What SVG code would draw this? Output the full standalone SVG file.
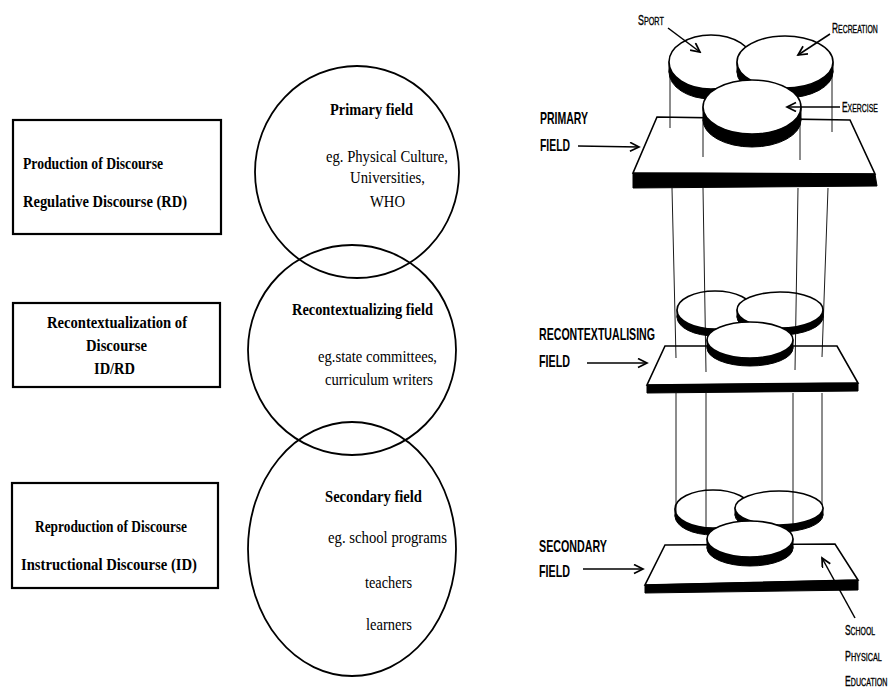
<svg xmlns="http://www.w3.org/2000/svg" width="889" height="689" viewBox="0 0 889 689">
<style>
.bx{fill:#fff;stroke:#000;stroke-width:2.2}
.cir{fill:none;stroke:#000;stroke-width:1.8}
.sb{font-family:"Liberation Serif","Times New Roman",serif;font-weight:bold;font-size:17px;fill:#000}
.cb{font-family:"Liberation Serif","Times New Roman",serif;font-weight:bold;font-size:16.5px;fill:#000}
.sr{font-family:"Liberation Serif","Times New Roman",serif;font-size:16.5px;fill:#000}
.lb{font-family:"Liberation Sans",Arial,sans-serif;font-weight:bold;font-size:17px;fill:#000}
.sc{font-family:"Liberation Sans",Arial,sans-serif;font-size:11.5px;fill:#000;stroke:#000;stroke-width:0.35}
.big{font-size:14px}
.top{fill:#fff;stroke:#000;stroke-width:1.6}
.blk{fill:#000;stroke:#000;stroke-width:1}
.plate{fill:#fff;stroke:#000;stroke-width:1.6}
.pl{stroke:#000;stroke-width:0.9;fill:none}
.ar{stroke:#000;stroke-width:1.5;fill:none;marker-end:url(#ah)}
</style>
<defs>
<marker id="ah" markerUnits="userSpaceOnUse" markerWidth="12" markerHeight="12" refX="10" refY="5" orient="auto">
<path d="M1,0.5 L10,5 L1,9.5" fill="none" stroke="#000" stroke-width="1.7"/>
</marker>
</defs>
<rect width="889" height="689" fill="#fff"/>

<g id="box-production">
<rect class="bx" x="13" y="120" width="208" height="114"/>
<text class="sb" x="23" y="169" textLength="140" lengthAdjust="spacingAndGlyphs">Production of Discourse</text>
<text class="sb" x="23" y="207" textLength="164" lengthAdjust="spacingAndGlyphs">Regulative Discourse (RD)</text>
</g>
<g id="box-recontextualization">
<rect class="bx" x="13" y="303" width="207" height="84"/>
<text class="sb" x="47" y="328" textLength="140" lengthAdjust="spacingAndGlyphs">Recontextualization of</text>
<text class="sb" x="86" y="351" textLength="61" lengthAdjust="spacingAndGlyphs">Discourse</text>
<text class="sb" x="94" y="374" textLength="41" lengthAdjust="spacingAndGlyphs">ID/RD</text>
</g>
<g id="box-reproduction">
<rect class="bx" x="12" y="483" width="206" height="105"/>
<text class="sb" x="35" y="532" textLength="152" lengthAdjust="spacingAndGlyphs">Reproduction of Discourse</text>
<text class="sb" x="21" y="570" textLength="176" lengthAdjust="spacingAndGlyphs">Instructional Discourse (ID)</text>
</g>

<g id="circle-primary">
<ellipse class="cir" cx="357" cy="172" rx="102" ry="106"/>
<text class="cb" x="330" y="115" textLength="83" lengthAdjust="spacingAndGlyphs">Primary field</text>
<text class="sr" x="326" y="162" textLength="122" lengthAdjust="spacingAndGlyphs">eg. Physical Culture,</text>
<text class="sr" x="350" y="183" textLength="75" lengthAdjust="spacingAndGlyphs">Universities,</text>
<text class="sr" x="370" y="207" textLength="35" lengthAdjust="spacingAndGlyphs">WHO</text>
</g>
<g id="circle-recontextualizing">
<ellipse class="cir" cx="352" cy="350" rx="104" ry="105"/>
<text class="cb" x="292" y="315" textLength="141" lengthAdjust="spacingAndGlyphs">Recontextualizing field</text>
<text class="sr" x="318" y="362" textLength="119" lengthAdjust="spacingAndGlyphs">eg.state committees,</text>
<text class="sr" x="325" y="385" textLength="108" lengthAdjust="spacingAndGlyphs">curriculum writers</text>
</g>
<g id="circle-secondary">
<ellipse class="cir" cx="352" cy="549" rx="104" ry="127"/>
<text class="cb" x="325" y="502" textLength="97" lengthAdjust="spacingAndGlyphs">Secondary field</text>
<text class="sr" x="328" y="543" textLength="119" lengthAdjust="spacingAndGlyphs">eg. school programs</text>
<text class="sr" x="365" y="588" textLength="47" lengthAdjust="spacingAndGlyphs">teachers</text>
<text class="sr" x="366" y="630" textLength="46" lengthAdjust="spacingAndGlyphs">learners</text>
</g>

<g id="level-primary">
<polygon class="plate" points="657,117 850,120 875,174 633,173"/>
<polygon class="blk" points="633,173 875,174 877,186 633,188"/>
<g id="disk-sport">
<ellipse class="blk" cx="711" cy="72" rx="42" ry="27"/><rect class="blk" x="669" y="62" width="84" height="10"/>
<ellipse class="top" cx="711" cy="62" rx="42" ry="27"/>
</g>
<g id="disk-recreation">
<ellipse class="blk" cx="785" cy="72" rx="48" ry="26"/><rect class="blk" x="737" y="62" width="96" height="10"/>
<ellipse class="top" cx="785" cy="62" rx="48" ry="26"/>
</g>
<g id="disk-exercise">
<ellipse class="blk" cx="752" cy="120" rx="49" ry="27"/><rect class="blk" x="703" y="107" width="98" height="13"/>
<ellipse class="top" cx="752" cy="107" rx="49" ry="27"/>
</g>
</g>

<g id="level-recontextualising">
<polygon class="plate" points="665,346 837,346 858,383 647,385"/>
<polygon class="blk" points="647,385 858,383 858,391 647,393"/>
<g>
<ellipse class="blk" cx="715" cy="317" rx="38" ry="19"/><rect class="blk" x="677" y="310" width="76" height="7"/>
<ellipse class="top" cx="715" cy="310" rx="38" ry="19"/>
</g>
<g>
<ellipse class="blk" cx="780" cy="317" rx="43" ry="18"/><rect class="blk" x="737" y="310" width="86" height="7"/>
<ellipse class="top" cx="780" cy="310" rx="43" ry="18"/>
</g>
<g>
<ellipse class="blk" cx="750" cy="348" rx="43" ry="18"/><rect class="blk" x="707" y="340" width="86" height="8"/>
<ellipse class="top" cx="750" cy="340" rx="43" ry="18"/>
</g>
</g>

<g id="level-secondary">
<polygon class="plate" points="665,545 835,544 858,580 645,585"/>
<polygon class="blk" points="645,585 858,580 858,590 645,593"/>
<g>
<ellipse class="blk" cx="713" cy="516" rx="38" ry="19"/><rect class="blk" x="675" y="509" width="76" height="7"/>
<ellipse class="top" cx="713" cy="509" rx="38" ry="19"/>
</g>
<g>
<ellipse class="blk" cx="779" cy="515" rx="44" ry="17"/><rect class="blk" x="735" y="508" width="88" height="7"/>
<ellipse class="top" cx="779" cy="508" rx="44" ry="17"/>
</g>
<g>
<ellipse class="blk" cx="750" cy="548" rx="43" ry="18"/><rect class="blk" x="707" y="539" width="86" height="9"/>
<ellipse class="top" cx="750" cy="539" rx="43" ry="18"/>
</g>
</g>

<g id="connectors">
<line class="pl" x1="670" y1="72" x2="670" y2="128"/>
<line class="pl" x1="703" y1="120" x2="703" y2="157"/>
<line class="pl" x1="800" y1="120" x2="800" y2="160"/>
<line class="pl" x1="832" y1="72" x2="832" y2="132"/>
<line class="pl" x1="672" y1="188" x2="676" y2="358"/>
<line class="pl" x1="703" y1="188" x2="706" y2="372"/>
<line class="pl" x1="798" y1="188" x2="795" y2="370"/>
<line class="pl" x1="828" y1="188" x2="822" y2="357"/>
<line class="pl" x1="676" y1="393" x2="676" y2="513"/>
<line class="pl" x1="706" y1="393" x2="706" y2="528"/>
<line class="pl" x1="793" y1="393" x2="793" y2="527"/>
<line class="pl" x1="822" y1="393" x2="822" y2="505"/>
<line class="ar" x1="668" y1="28" x2="700" y2="52"/>
<line class="ar" x1="830" y1="34" x2="798" y2="55"/>
<line class="ar" x1="840" y1="107" x2="787" y2="107"/>
<line class="ar" x1="578" y1="146" x2="639" y2="147"/>
<line class="ar" x1="587" y1="363" x2="647" y2="363"/>
<line class="ar" x1="583" y1="569" x2="643" y2="569"/>
<line class="ar" x1="855" y1="618" x2="822" y2="558"/>
</g>

<g id="labels">
<text class="lb" x="540" y="124" textLength="48" lengthAdjust="spacingAndGlyphs">PRIMARY</text>
<text class="lb" x="540" y="151" textLength="30" lengthAdjust="spacingAndGlyphs">FIELD</text>
<text class="lb" x="539" y="340" textLength="116" lengthAdjust="spacingAndGlyphs">RECONTEXTUALISING</text>
<text class="lb" x="539" y="367" textLength="31" lengthAdjust="spacingAndGlyphs">FIELD</text>
<text class="lb" x="539" y="552" textLength="68" lengthAdjust="spacingAndGlyphs">SECONDARY</text>
<text class="lb" x="539" y="577" textLength="31" lengthAdjust="spacingAndGlyphs">FIELD</text>
<text class="sc" transform="translate(638,25) scale(0.63,1)"><tspan class="big">S</tspan>PORT</text>
<text class="sc" transform="translate(832,33) scale(0.6,1)"><tspan class="big">R</tspan>ECREATION</text>
<text class="sc" transform="translate(842,112) scale(0.6,1)"><tspan class="big">E</tspan>XERCISE</text>
<text class="sc" transform="translate(845,635) scale(0.6,1)"><tspan class="big">S</tspan>CHOOL</text>
<text class="sc" transform="translate(845,661) scale(0.63,1)"><tspan class="big">P</tspan>HYSICAL</text>
<text class="sc" transform="translate(845,686) scale(0.62,1)"><tspan class="big">E</tspan>DUCATION</text>
</g>
</svg>
